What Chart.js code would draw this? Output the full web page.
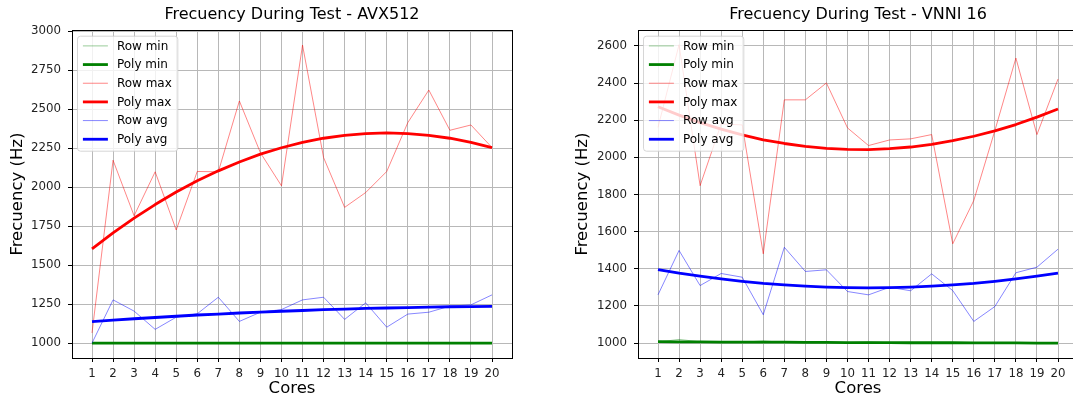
<!DOCTYPE html>
<html>
<head>
<meta charset="utf-8">
<script src="https://cdn.jsdelivr.net/npm/chart.js@4.4.0/dist/chart.umd.min.js"></script>
<style>
  body { margin: 0; background: #fff; overflow: hidden; }
  .panel { position: absolute; top: 0; height: 400px; }
  #avxPanel { left: 0; width: 536px; }
  /* the VNNI panel runs a few pixels past the right edge of the page */
  #vnniPanel { left: 536px; width: 543px; }
</style>
</head>
<body>
<div class="panel" id="avxPanel"><canvas id="avxChart"></canvas></div>
<div class="panel" id="vnniPanel"><canvas id="vnniChart"></canvas></div>
<script>
const cores = [1, 2, 3, 4, 5, 6, 7, 8, 9, 10, 11, 12, 13, 14, 15, 16, 17, 18, 19, 20];

// AVX512 run
const avxRowMin = [1000, 1000, 1000, 1000, 1000, 1000, 1000, 1000, 1000, 1000, 1000, 1000, 1000, 1000, 1000, 1000, 1000, 1000, 1000, 1000];
const avxPolyMin = [1000, 1000, 1000, 1000, 1000, 1000, 1000, 1000, 1000, 1000, 1000, 1000, 1000, 1000, 1000, 1000, 1000, 1000, 1000, 1000];
const avxRowMax = [1065, 2172, 1816, 2098, 1725, 2100, 2098, 2552, 2220, 2008, 2910, 2189, 1870, 1965, 2100, 2413, 2622, 2364, 2398, 2253];
const avxPolyMax = [1604, 1706, 1801, 1888, 1968, 2040, 2104, 2161, 2211, 2252, 2286, 2313, 2332, 2343, 2347, 2343, 2332, 2313, 2286, 2253];
const avxRowAvg = [1000, 1277, 1205, 1088, 1166, 1188, 1294, 1139, 1198, 1215, 1277, 1294, 1152, 1258, 1102, 1186, 1198, 1237, 1245, 1309];
const avxPolyAvg = [1137, 1147, 1156, 1164, 1172, 1180, 1186, 1193, 1199, 1204, 1209, 1214, 1218, 1222, 1225, 1228, 1231, 1233, 1234, 1235];
const avxTicks = [1000, 1250, 1500, 1750, 2000, 2250, 2500, 2750, 3000];

// VNNI 16 run
const vnniRowMin = [1006, 1020, 1007, 1005, 1005, 1012, 1004, 1004, 1003, 1003, 1008, 1002, 1002, 1001, 1001, 1001, 1000, 1000, 1000, 1000];
const vnniPolyMin = [1008, 1007, 1007, 1006, 1006, 1005, 1005, 1004, 1004, 1003, 1003, 1003, 1002, 1002, 1002, 1001, 1001, 1001, 1000, 1000];
const vnniRowMax = [2162, 2607, 1848, 2180, 2175, 1481, 2310, 2310, 2401, 2159, 2064, 2094, 2100, 2123, 1535, 1768, 2144, 2535, 2123, 2422];
const vnniPolyMax = [2273, 2228, 2187, 2152, 2121, 2095, 2075, 2059, 2049, 2043, 2042, 2047, 2056, 2070, 2090, 2114, 2143, 2177, 2217, 2261];
const vnniRowAvg = [1260, 1499, 1310, 1375, 1355, 1153, 1516, 1386, 1395, 1278, 1260, 1301, 1282, 1373, 1283, 1117, 1197, 1379, 1409, 1506];
const vnniPolyAvg = [1396, 1377, 1361, 1346, 1333, 1322, 1314, 1307, 1302, 1299, 1298, 1299, 1302, 1307, 1314, 1322, 1333, 1346, 1361, 1377];
const vnniTicks = [1000, 1200, 1400, 1600, 1800, 2000, 2200, 2400, 2600];

const FONT = "'DejaVu Sans', sans-serif";
Chart.defaults.font.family = FONT;

const line = (label, values, color, width, order) => ({
  label: label,
  data: values.map((v, i) => ({ x: cores[i], y: v })),
  borderColor: color,
  borderWidth: width,
  borderJoinStyle: 'round',
  pointRadius: 0,
  tension: 0,
  fill: false,
  order: order
});

// spines on all four sides + a boxed legend in the upper left corner
const frameAndLegend = {
  id: 'frameAndLegend',
  afterDatasetsDraw(chart) {
    const { ctx, chartArea: a } = chart;
    ctx.save();
    ctx.strokeStyle = '#000';
    ctx.lineWidth = 1;
    ctx.strokeRect(Math.round(a.left) + 0.5, Math.round(a.top) + 0.5, Math.round(a.right - a.left), Math.round(a.bottom - a.top));

    const sets = chart.data.datasets;
    ctx.font = '12px ' + FONT;
    const textW = Math.max(...sets.map(d => ctx.measureText(d.label).width));
    const bx = a.left + 5.5, by = a.top + 6;
    const bw = 39.4 + textW + 6, bh = 115;
    ctx.beginPath();
    ctx.roundRect(bx, by, bw, bh, 3);
    ctx.fillStyle = 'rgba(255,255,255,0.8)';
    ctx.fill();
    ctx.strokeStyle = 'rgba(204,204,204,0.8)';
    ctx.stroke();

    sets.forEach((d, i) => {
      const y = by + 9.7 + i * 18.67;
      ctx.beginPath();
      ctx.moveTo(bx + 5.4, y);
      ctx.lineTo(bx + 30.4, y);
      ctx.strokeStyle = d.borderColor;
      ctx.lineWidth = d.borderWidth;
      ctx.stroke();
      ctx.fillStyle = '#000';
      ctx.textBaseline = 'middle';
      ctx.fillText(d.label, bx + 39.4, y + 0.5);
    });
    ctx.restore();
  }
};

function makeChart(canvasId, title, series, yMin, yMax, yTicks, yWidth, yTitlePad, rightPad) {
  return new Chart(document.getElementById(canvasId), {
    type: 'line',
    data: {
      datasets: [
        line('Row min', series[0], 'rgba(0,128,0,0.4)', 1, 6),
        line('Poly min', series[1], '#008000', 2.8, 5),
        line('Row max', series[2], 'rgba(255,0,0,0.6)', 0.8, 4),
        line('Poly max', series[3], '#ff0000', 2.8, 3),
        line('Row avg', series[4], 'rgba(0,0,255,0.6)', 0.8, 2),
        line('Poly avg', series[5], '#0000ff', 2.8, 1)
      ]
    },
    options: {
      responsive: true,
      maintainAspectRatio: false,
      animation: false,
      layout: { padding: { left: 0, right: rightPad, top: 0, bottom: 0 } },
      plugins: {
        legend: { display: false },
        tooltip: { enabled: false },
        title: {
          display: true,
          text: title,
          fullSize: false,
          color: '#000',
          font: { size: 16, weight: 'normal' },
          padding: { top: 5, bottom: 6 }
        }
      },
      scales: {
        x: {
          type: 'linear',
          min: 0.05,
          max: 20.95,
          afterBuildTicks: s => { s.ticks = cores.map(v => ({ value: v })); },
          afterFit: s => { s.height = 42; },
          ticks: { autoSkip: false, maxRotation: 0, color: '#222', padding: 5, font: { size: 11.8 }, callback: v => String(v) },
          grid: { color: '#b8b8b8', lineWidth: 1, tickColor: '#000', tickLength: 4 },
          border: { display: true, color: '#000', width: 1 },
          title: { display: true, text: 'Cores', color: '#000', font: { size: 16.5 }, padding: { top: 0, bottom: 1 } }
        },
        y: {
          type: 'linear',
          min: yMin,
          max: yMax,
          afterBuildTicks: s => { s.ticks = yTicks.map(v => ({ value: v })); },
          afterFit: s => { s.width = yWidth; },
          ticks: { color: '#222', padding: 7, font: { size: 11.8 }, callback: v => String(v) },
          grid: { color: '#b8b8b8', lineWidth: 1, tickColor: '#000', tickLength: 4 },
          border: { display: true, color: '#000', width: 1 },
          title: { display: true, text: 'Frecuency (Hz)', color: '#000', font: { size: 16.5 }, padding: { top: yTitlePad, bottom: 0 } }
        }
      }
    },
    plugins: [frameAndLegend]
  });
}

makeChart('avxChart', 'Frecuency During Test - AVX512',
  [avxRowMin, avxPolyMin, avxRowMax, avxPolyMax, avxRowAvg, avxPolyAvg],
  904.5, 3005.5, avxTicks, 72, 8, 24);

makeChart('vnniChart', 'Frecuency During Test - VNNI 16',
  [vnniRowMin, vnniPolyMin, vnniRowMax, vnniPolyMax, vnniRowAvg, vnniPolyAvg],
  920, 2685, vnniTicks, 102, 37, 1);
</script>
</body>
</html>
